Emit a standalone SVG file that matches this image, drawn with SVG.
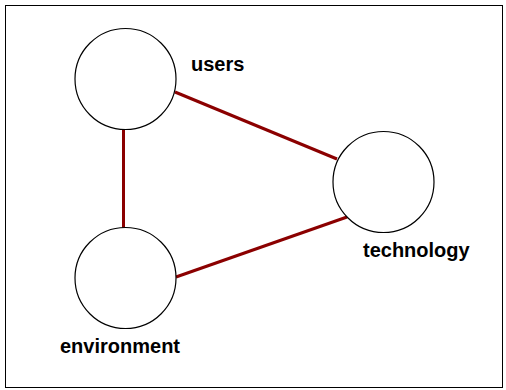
<svg xmlns="http://www.w3.org/2000/svg" width="506" height="390" viewBox="0 0 506 390">
<style>
.node{fill:#fff;stroke:#000;stroke-width:1.2}
.edge{stroke:#8b0000;stroke-width:3;fill:none}
.lbl{font-family:"Liberation Sans",Arial,sans-serif;font-weight:bold;font-size:20px;fill:#000}
</style>
<rect x="0" y="0" width="506" height="390" fill="#fff"/>
<rect x="5.5" y="5.5" width="497" height="382" fill="none" stroke="#000" stroke-width="1"/>
<g id="connectors">
<line class="edge" x1="123.5" y1="127" x2="123.5" y2="230"/>
<line class="edge" x1="175" y1="92" x2="337" y2="159"/>
<line class="edge" x1="176" y1="277" x2="347" y2="217"/>
</g>
<g id="users">
<circle class="node" cx="125.5" cy="79" r="50.5"/>
<text class="lbl" x="191" y="71">users</text>
</g>
<g id="environment">
<circle class="node" cx="125.5" cy="278" r="50.5"/>
<text class="lbl" x="60" y="353">environment</text>
</g>
<g id="technology">
<circle class="node" cx="383.5" cy="182" r="50.5"/>
<text class="lbl" x="363" y="257">technology</text>
</g>
</svg>
